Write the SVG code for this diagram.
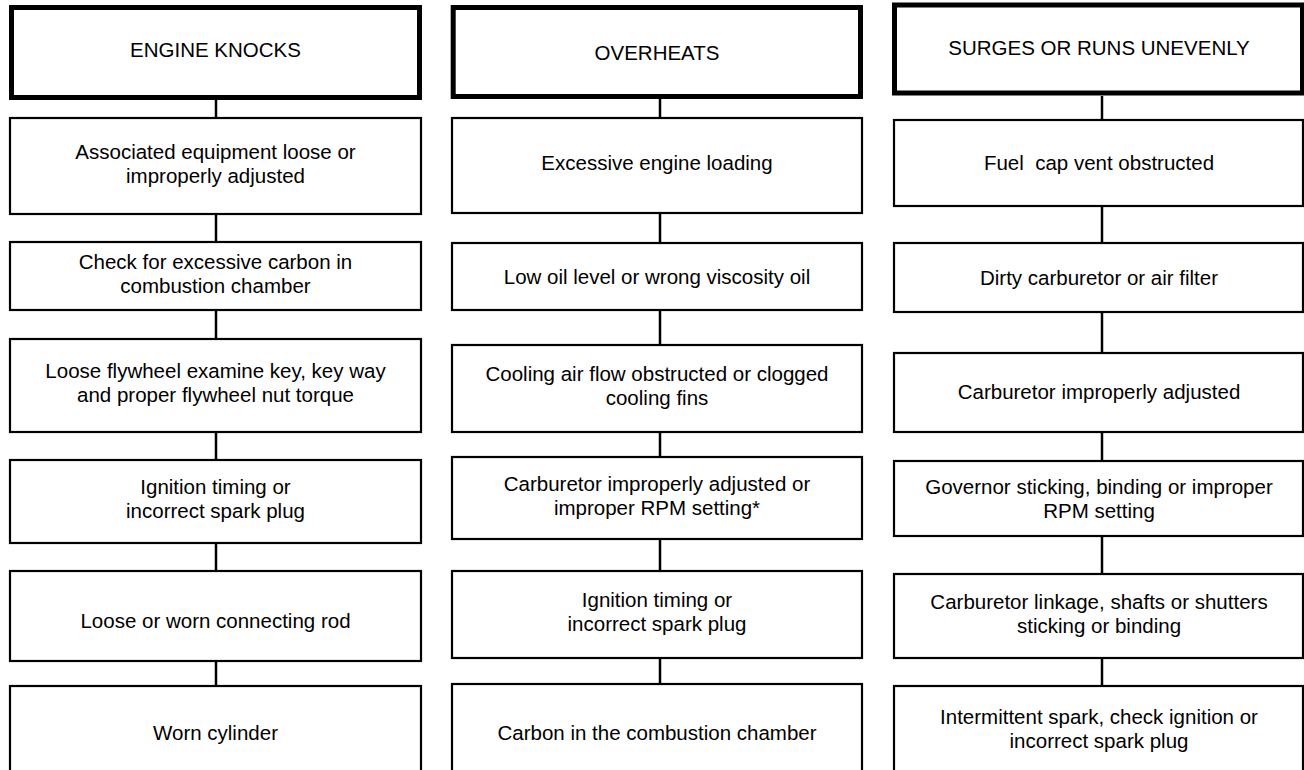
<svg xmlns="http://www.w3.org/2000/svg" width="1304" height="770" viewBox="0 0 1304 770">
<style>
.hdr{fill:#fff;stroke:#000;stroke-width:5}
.box{fill:#fff;stroke:#000;stroke-width:2.2}
.con line{stroke:#000;stroke-width:2.5}
text{font-family:"Liberation Sans",Arial,sans-serif;font-size:20.5px;fill:#000;text-anchor:middle}
</style>
<rect width="1304" height="770" fill="#fff"/>
<g class="con">
<line x1="216" y1="100" x2="216" y2="118"/>
<line x1="216" y1="214" x2="216" y2="242"/>
<line x1="216" y1="310" x2="216" y2="339"/>
<line x1="216" y1="432" x2="216" y2="460"/>
<line x1="216" y1="543" x2="216" y2="571"/>
<line x1="216" y1="661" x2="216" y2="686"/>
<line x1="660" y1="99" x2="660" y2="118"/>
<line x1="660" y1="213" x2="660" y2="243"/>
<line x1="660" y1="310" x2="660" y2="345"/>
<line x1="660" y1="432" x2="660" y2="457"/>
<line x1="660" y1="539" x2="660" y2="571"/>
<line x1="660" y1="658" x2="660" y2="684"/>
<line x1="1102" y1="96" x2="1102" y2="120"/>
<line x1="1102" y1="206" x2="1102" y2="243"/>
<line x1="1102" y1="312" x2="1102" y2="353"/>
<line x1="1102" y1="432" x2="1102" y2="461"/>
<line x1="1102" y1="536" x2="1102" y2="574"/>
<line x1="1102" y1="658" x2="1102" y2="686"/>
</g>
<g id="c1h"><rect class="hdr" x="11.5" y="7.5" width="408" height="90"/><text x="215.5" y="57">ENGINE KNOCKS</text></g>
<g id="c1b1"><rect class="box" x="10" y="118" width="411" height="96"/><text x="215.5" y="158.5">Associated equipment loose or</text><text x="215.5" y="182.5">improperly adjusted</text></g>
<g id="c1b2"><rect class="box" x="10" y="242" width="411" height="68"/><text x="215.5" y="269">Check for excessive carbon in</text><text x="215.5" y="293">combustion chamber</text></g>
<g id="c1b3"><rect class="box" x="10" y="339" width="411" height="93"/><text x="215.5" y="378">Loose flywheel examine key, key way</text><text x="215.5" y="402">and proper flywheel nut torque</text></g>
<g id="c1b4"><rect class="box" x="10" y="460" width="411" height="83"/><text x="215.5" y="494">Ignition timing or</text><text x="215.5" y="518">incorrect spark plug</text></g>
<g id="c1b5"><rect class="box" x="10" y="571" width="411" height="90"/><text x="215.5" y="628">Loose or worn connecting rod</text></g>
<g id="c1b6"><rect class="box" x="10" y="686" width="411" height="120"/><text x="215.5" y="740">Worn cylinder</text></g>

<g id="c2h"><rect class="hdr" x="453.2" y="7.5" width="407.3" height="89"/><text x="657" y="60">OVERHEATS</text></g>
<g id="c2b1"><rect class="box" x="452" y="118" width="410" height="95"/><text x="657" y="170">Excessive engine loading</text></g>
<g id="c2b2"><rect class="box" x="452" y="243" width="410" height="67"/><text x="657" y="284">Low oil level or wrong viscosity oil</text></g>
<g id="c2b3"><rect class="box" x="452" y="345" width="410" height="87"/><text x="657" y="381">Cooling air flow obstructed or clogged</text><text x="657" y="405">cooling fins</text></g>
<g id="c2b4"><rect class="box" x="452" y="457" width="410" height="82"/><text x="657" y="491">Carburetor improperly adjusted or</text><text x="657" y="515">improper RPM setting*</text></g>
<g id="c2b5"><rect class="box" x="452" y="571" width="410" height="87"/><text x="657" y="607">Ignition timing or</text><text x="657" y="631">incorrect spark plug</text></g>
<g id="c2b6"><rect class="box" x="452" y="684" width="410" height="120"/><text x="657" y="740">Carbon in the combustion chamber</text></g>

<g id="c3h"><rect class="hdr" x="894.5" y="5" width="408" height="88"/><text x="1099" y="55">SURGES OR RUNS UNEVENLY</text></g>
<g id="c3b1"><rect class="box" x="894" y="120" width="409" height="86"/><text x="1099" y="170" style="white-space:pre">Fuel  cap vent obstructed</text></g>
<g id="c3b2"><rect class="box" x="894" y="243" width="409" height="69"/><text x="1099" y="285">Dirty carburetor or air filter</text></g>
<g id="c3b3"><rect class="box" x="894" y="353" width="409" height="79"/><text x="1099" y="399">Carburetor improperly adjusted</text></g>
<g id="c3b4"><rect class="box" x="894" y="461" width="409" height="75"/><text x="1099" y="494">Governor sticking, binding or improper</text><text x="1099" y="518">RPM setting</text></g>
<g id="c3b5"><rect class="box" x="894" y="574" width="409" height="84"/><text x="1099" y="609">Carburetor linkage, shafts or shutters</text><text x="1099" y="633">sticking or binding</text></g>
<g id="c3b6"><rect class="box" x="894" y="686" width="409" height="120"/><text x="1099" y="724">Intermittent spark, check ignition or</text><text x="1099" y="748">incorrect spark plug</text></g>
</svg>
